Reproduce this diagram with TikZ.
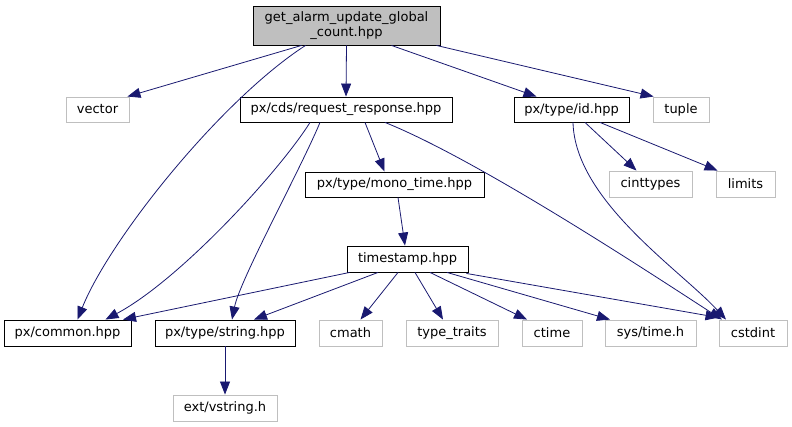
\documentclass[tikz,border=0pt]{standalone}
\usepackage{fontspec}
\setmainfont{DejaVu Sans}
\usetikzlibrary{arrows.meta}
\definecolor{edgec}{RGB}{25,25,112}
\definecolor{extc}{RGB}{191,191,191}
\definecolor{rootc}{RGB}{191,191,191}
\begin{document}
\begin{tikzpicture}[x=1pt,y=-1pt,
  box/.style={draw=black,line width=0.9pt,inner sep=0pt,minimum height=25pt,font=\fontsize{13}{14}\selectfont,text=black},
  ext/.style={box,draw=extc},
  dep/.style={draw=edgec,line width=0.8pt,-{Triangle[length=13pt,width=10pt]}}]
\useasboundingbox (0,0) rectangle (792,427);
\node[box,fill=rootc,minimum width=187pt,minimum height=39pt,align=center,font=\fontsize{13}{14.5}\selectfont] (root) at (346.5,25.5) {get\_alarm\_update\_global\\\_count.hpp};
\node[ext,minimum width=63pt] (vector) at (97.5,109.5) {vector};
\node[box,minimum width=212pt] (rr) at (346,109.5) {px/cds/request\_response.hpp};
\node[box,minimum width=115pt] (id) at (571.5,109.5) {px/type/id.hpp};
\node[ext,minimum width=56pt] (tuple) at (681,109.5) {tuple};
\node[box,minimum width=179pt] (mono) at (394.5,184.5) {px/type/mono\_time.hpp};
\node[ext,minimum width=83pt,minimum height=26pt] (cinttypes) at (650.5,184) {cinttypes};
\node[ext,minimum width=59pt,minimum height=26pt] (limits) at (745.5,184) {limits};
\node[box,minimum width=121pt,minimum height=26pt] (ts) at (407.5,259) {timestamp.hpp};
\node[box,minimum width=127pt,minimum height=26pt] (common) at (67.5,333) {px/common.hpp};
\node[box,minimum width=140pt,minimum height=26pt] (string) at (225,333) {px/type/string.hpp};
\node[ext,minimum width=63pt,minimum height=26pt] (cmath) at (350.5,333) {cmath};
\node[ext,minimum width=92pt,minimum height=26pt] (tt) at (452,333) {type\_traits};
\node[ext,minimum width=60pt,minimum height=26pt] (ctime) at (552,333) {ctime};
\node[ext,minimum width=91pt,minimum height=26pt] (systime) at (650.5,333) {sys/time.h};
\node[ext,minimum width=68pt,minimum height=26pt] (cstdint) at (753,333) {cstdint};
\node[ext,minimum width=104pt,minimum height=26pt] (vstring) at (225,408) {ext/vstring.h};

\draw[dep] ([xshift=-45pt]root.south) -- ([xshift=-2pt]vector.north east);
\draw[dep] ([xshift=-41pt]root.south) .. controls +(-85,55) and +(32,-80) .. ([xshift=10pt]common.north);
\draw[dep] (root.south) -- (rr.north);
\draw[dep] ([xshift=45pt]root.south) -- ([xshift=-35pt]id.north);
\draw[dep] ([xshift=90pt]root.south) -- ([xshift=1pt]tuple.north west);
\draw[dep] ([xshift=-36pt]rr.south) .. controls +(-30,48) and +(75,-40) .. ([xshift=38pt]common.north);
\draw[dep] ([xshift=-26pt]rr.south) .. controls +(-20,48) and +(8,-40) .. ([xshift=7pt]string.north);
\draw[dep] ([xshift=19pt]rr.south) -- ([xshift=-10pt]mono.north);
\draw[dep] ([xshift=39pt]rr.south) .. controls +(95,38) and +(-62,-40) .. ([xshift=-31pt]cstdint.north);
\draw[dep] ([xshift=13.5pt]id.south) -- ([xshift=-14pt]cinttypes.north);
\draw[dep] ([xshift=28.5pt]id.south) -- ([xshift=2pt]limits.north west);
\draw[dep] ([xshift=1.5pt]id.south) .. controls +(2,78) and +(-46,-50) .. ([xshift=-27pt]cstdint.north);
\draw[dep] ([xshift=3.5pt]mono.south) -- ([xshift=-2.5pt]ts.south |- ts.north);
\draw[dep] ([xshift=3pt]ts.south west) -- ([xshift=55.5pt]common.north);
\draw[dep] ([xshift=-29.5pt]ts.south) -- ([xshift=29pt]string.north);
\draw[dep] ([xshift=-9.5pt]ts.south) -- ([xshift=10pt]cmath.north);
\draw[dep] ([xshift=7.5pt]ts.south) -- ([xshift=-9pt]tt.north);
\draw[dep] ([xshift=22.5pt]ts.south) -- ([xshift=-25pt]ctime.north);
\draw[dep] ([xshift=39.5pt]ts.south) -- ([xshift=-40.5pt]systime.north);
\draw[dep] ([xshift=-2pt,yshift=-1pt]ts.south east) -- ([yshift=2pt]cstdint.north west);
\draw[dep] (string.south) -- (vstring.north);
\end{tikzpicture}
\end{document}
